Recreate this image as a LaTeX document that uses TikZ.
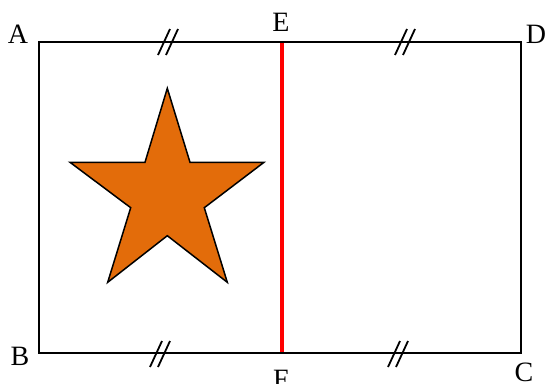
\documentclass[tikz,border=0pt]{standalone}
\usepackage{fontspec}
\setmainfont{Liberation Serif}
\definecolor{starorange}{HTML}{E36C0A}
\begin{document}
\begin{tikzpicture}[x=1pt,y=-1pt,
  lbl/.style={inner sep=0pt,font=\fontsize{28}{28}\selectfont},
  edge/.style={line width=2pt,line cap=rect},
  tick/.style={line width=1.8pt},
  redline/.style={red,line width=3.6pt}]
\useasboundingbox (0,0) rectangle (545,383);
\coordinate (A) at (39,42);
\coordinate (B) at (39,353);
\coordinate (C) at (521,353);
\coordinate (D) at (521,42);
\coordinate (E) at (282,42);
\coordinate (F) at (282,353);
\draw[edge] (A) -- (D) -- (C) -- (B) -- cycle;
\draw[redline] (E) -- (F);
\draw[edge] (A) -- (D);
\draw[edge] (B) -- (C);
% tick marks
\foreach \cx/\cy in {168/42, 405/42, 160/354, 398/354}{
  \draw[tick] (\cx-4-6,\cy+13) -- (\cx-4+6,\cy-13);
  \draw[tick] (\cx+4-6,\cy+13) -- (\cx+4+6,\cy-13);
}
% star
\draw[line width=1.5pt,line join=miter,fill=starorange]
  (167.3,88.3) -- (190,162.3) -- (264,162.3) -- (204.3,207.7) -- (227.3,282.3)
  -- (167.3,235.7) -- (107.7,282.3) -- (130.7,207.7) -- (70,162.3) -- (145,162.3) -- cycle;
% labels
\node[lbl] (lA) at (18,34) {A};
\node[lbl] (lB) at (20,356) {B};
\node[lbl] (lC) at (524,372) {C};
\node[lbl] (lD) at (536,34) {D};
\node[lbl] (lE) at (281,22) {E};
\node[lbl] (lF) at (281,379) {F};
\end{tikzpicture}
\end{document}
